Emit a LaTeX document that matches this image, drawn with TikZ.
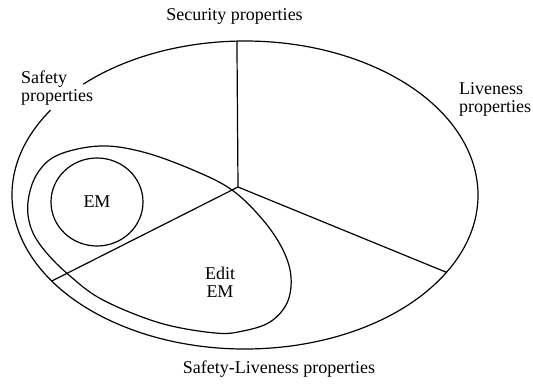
\documentclass[tikz,border=0pt]{standalone}
\usepackage{fontspec}
\setmainfont{Liberation Serif}
\usetikzlibrary{shapes.geometric}
\begin{document}
\begin{tikzpicture}[x=1pt,y=-1pt,
  edge/.style={line width=1.2pt},
  lbl/.style={font=\fontsize{18}{20}\selectfont, inner sep=0pt},
  lbll/.style={lbl, align=left},
  lblc/.style={lbl, align=center}]
\useasboundingbox (0,0) rectangle (533,385);
% outer ellipse (named for anchors), drawn as an arc leaving a gap at the "Safety" label
\node[ellipse, minimum width=466pt, minimum height=308pt, inner sep=0pt] (big) at (245,195) {};
\draw[edge] (big.center) ++({233*cos(146.6)},{-154*sin(146.6)})
  arc[start angle=146.6, end angle=494, x radius=233pt, y radius=154pt];
\coordinate (j) at (238,187);
\draw[edge] (j) -- (big.93.3);
\draw[edge] (j) -- (big.-21);
\draw[edge] (j) -- (big.204.8);
\node[draw, edge, ellipse, minimum width=92pt, minimum height=88pt, inner sep=0pt, lblc] (em) at (97,202) {EM};
\draw[edge] plot[smooth cycle, tension=0.6] coordinates {
  (28,202) (37,174) (58,155) (100,146) (143,152) (193,170) (232,190)
  (263,220) (283,250) (291,277) (287,303) (270,322) (243,331) (215,333)
  (160,323) (103,300) (70,276) (45,251) (31,228)};
\node[lblc] (sec) at (234.5,16) {Security properties};
\node[lbll, anchor=north west] (safe) at (21,71) {Safety\\[-2pt]properties};
\node[lbll, anchor=north west] (live) at (459,82) {Liveness\\[-2pt]properties};
\node[lblc] (edit) at (220,282) {Edit\\[-2pt]EM};
\node[lblc] (sl) at (279,369) {Safety-Liveness properties};
\end{tikzpicture}
\end{document}
